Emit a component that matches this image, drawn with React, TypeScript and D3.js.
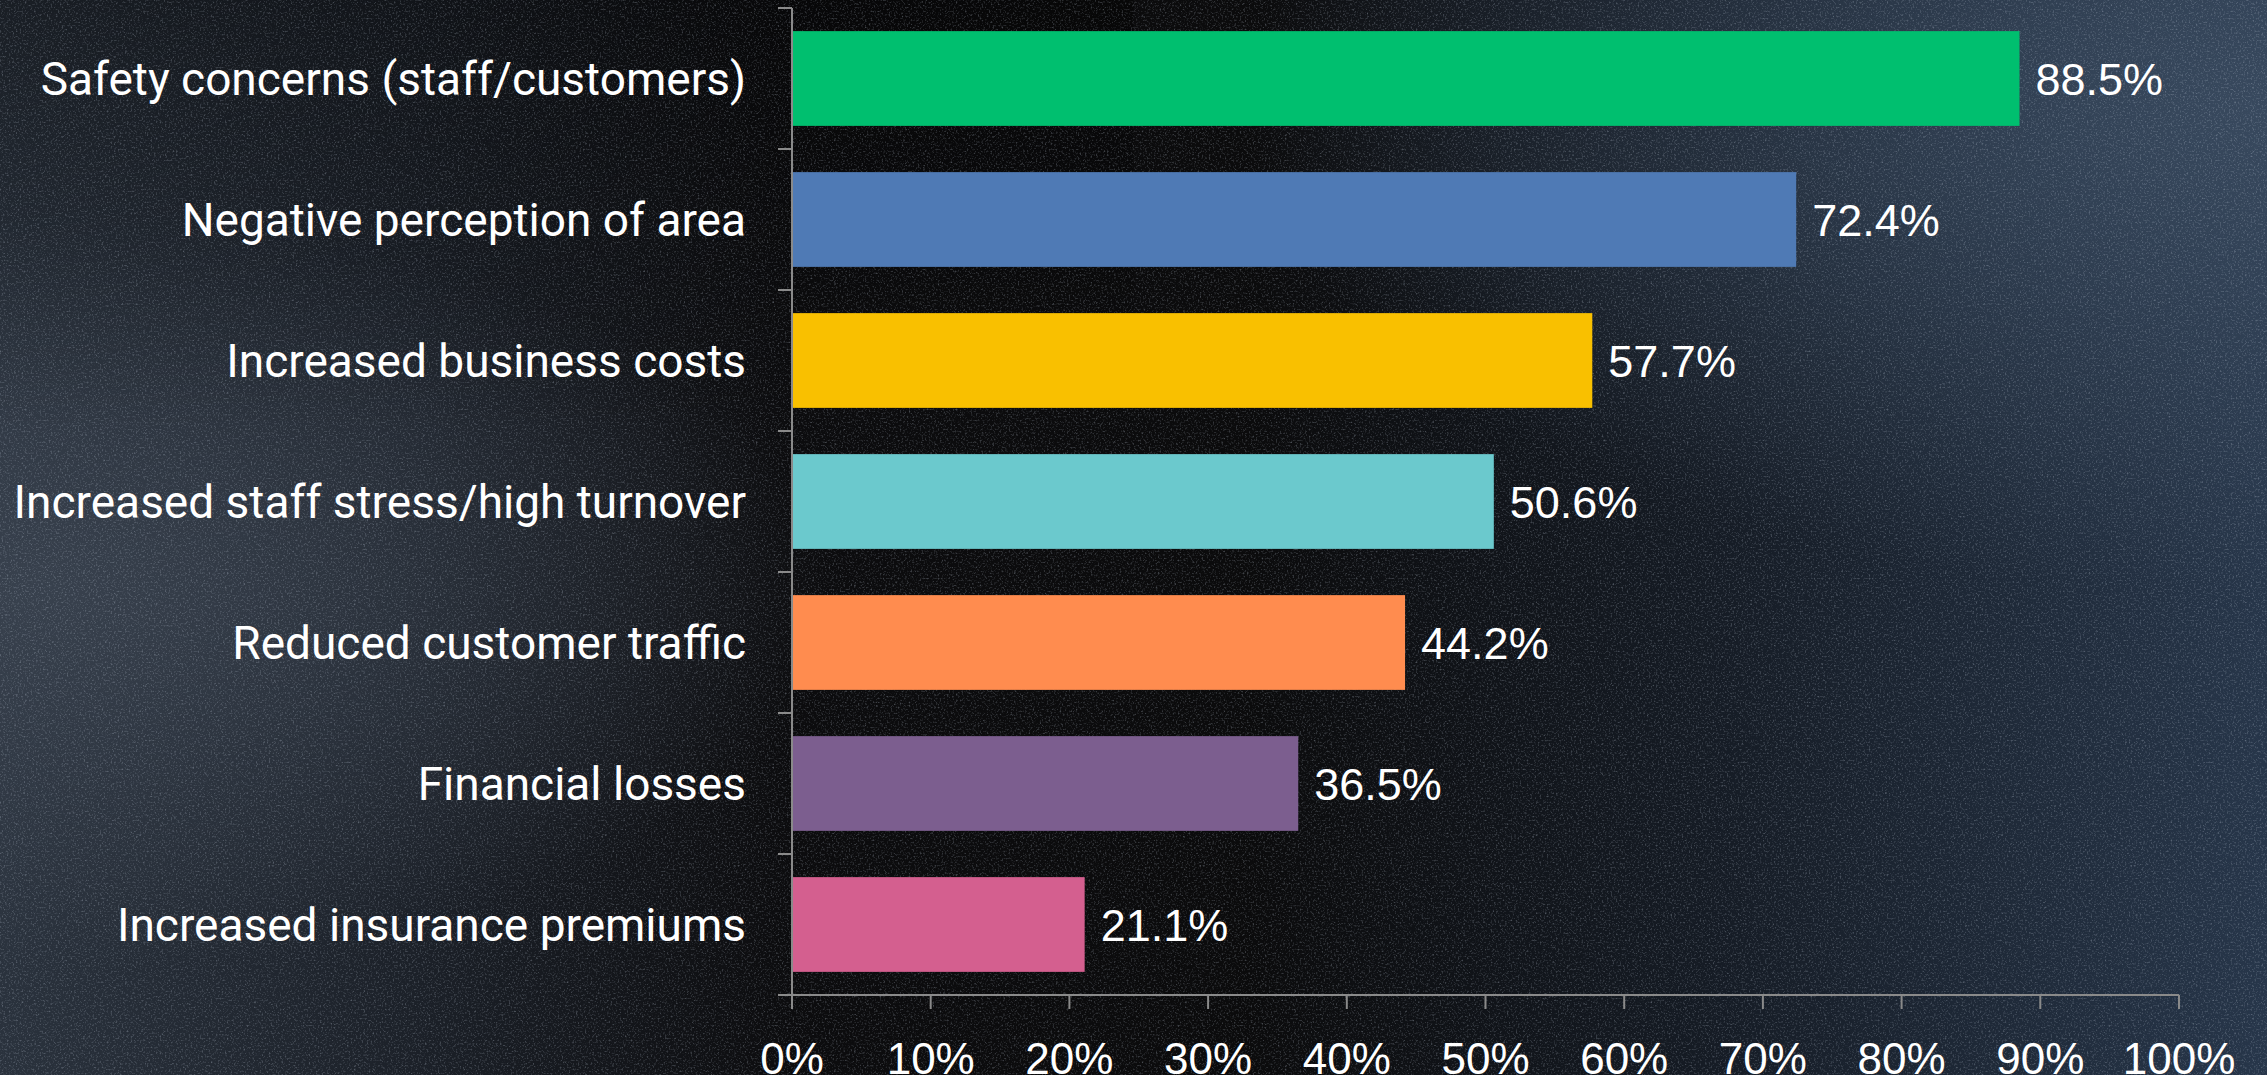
import React from "react";
import * as d3 from "d3";

const categories = [
  "Safety concerns (staff/customers)",
  "Negative perception of area",
  "Increased business costs",
  "Increased staff stress/high turnover",
  "Reduced customer traffic",
  "Financial losses",
  "Increased insurance premiums",
];
const values = [88.5, 72.4, 57.7, 50.6, 44.2, 36.5, 21.1];
const barColors = ["#00BF6F", "#4F7AB5", "#F9C000", "#6BC9CD", "#FF8C4F", "#7C5E8F", "#D45F8F"];
const xTicks = [0, 10, 20, 30, 40, 50, 60, 70, 80, 90, 100];

const W = 2267;
const H = 1075;
const AXIS_X0 = 792;
const AXIS_X1 = 2179;
const TOP = 8;
const BOTTOM = 995;
const PAD = 0.328;

export default function App() {
  const x = d3.scaleLinear().domain([0, 100]).range([AXIS_X0, AXIS_X1]);
  const y = d3
    .scaleBand<string>()
    .domain(categories)
    .range([TOP, BOTTOM])
    .paddingInner(PAD)
    .paddingOuter(PAD / 2);
  const step = y.step();
  const boundaries = categories.map((c) => (y(c) as number) - (step * PAD) / 2);
  boundaries.push(BOTTOM);
  const axisColor = "#8a8a8a";

  return (
    <svg
      width={W}
      height={H}
      viewBox={`0 0 ${W} ${H}`}
      style={{ position: "absolute", left: 0, top: 0, display: "block" }}
    >
      <defs>
        <linearGradient id="bgH" x1="0" y1="0" x2="1" y2="0">
          <stop offset="0" stopColor="#2a323d" />
          <stop offset="0.18" stopColor="#1c2129" />
          <stop offset="0.35" stopColor="#0c0c0e" />
          <stop offset="0.55" stopColor="#0b0b0c" />
          <stop offset="0.75" stopColor="#151b24" />
          <stop offset="1" stopColor="#27364a" />
        </linearGradient>
        <radialGradient id="glowL" cx="0.02" cy="0.55" r="0.35">
          <stop offset="0" stopColor="#3c4552" stopOpacity="0.8" />
          <stop offset="1" stopColor="#3c4552" stopOpacity="0" />
        </radialGradient>
        <radialGradient id="glowR" cx="1" cy="0.1" r="0.45">
          <stop offset="0" stopColor="#3a4b60" stopOpacity="0.9" />
          <stop offset="1" stopColor="#3a4b60" stopOpacity="0" />
        </radialGradient>
        <linearGradient id="darkTop" x1="0" y1="0" x2="0" y2="1">
          <stop offset="0" stopColor="#000" stopOpacity="0.4" />
          <stop offset="0.4" stopColor="#000" stopOpacity="0" />
        </linearGradient>
        <filter id="noise" x="0" y="0" width="100%" height="100%">
          <feTurbulence type="fractalNoise" baseFrequency="0.55" numOctaves="2" seed="3" />
          <feColorMatrix
            type="matrix"
            values="0 0 0 0 0.55  0 0 0 0 0.62  0 0 0 0 0.72  0 0 0 2.2 -1.15"
          />
        </filter>
      </defs>
      <rect x={0} y={0} width={W} height={H} fill="url(#bgH)" />
      <rect x={0} y={0} width={W} height={H} fill="url(#glowL)" />
      <rect x={0} y={0} width={W} height={H} fill="url(#glowR)" />
      <rect x={0} y={0} width={W / 2} height={H} fill="url(#darkTop)" />
      <rect x={0} y={0} width={W} height={H} filter="url(#noise)" opacity={0.4} />

      {/* bars */}
      {categories.map((c, i) => (
        <rect
          key={c}
          x={x(0)}
          y={y(c)}
          width={x(values[i]) - x(0)}
          height={y.bandwidth()}
          fill={barColors[i]}
        />
      ))}

      {/* value labels */}
      {categories.map((c, i) => (
        <text
          key={c + "v"}
          x={x(values[i]) + 16}
          y={(y(c) as number) + y.bandwidth() / 2 + 16}
          fill="#ffffff"
          fontFamily="'Liberation Sans', Arial, sans-serif"
          fontSize={45}
        >
          {values[i].toFixed(1)}%
        </text>
      ))}

      {/* category labels */}
      {categories.map((c) => (
        <text
          key={c + "l"}
          x={746}
          y={(y(c) as number) + y.bandwidth() / 2 + 16}
          fill="#ffffff"
          textAnchor="end"
          fontFamily="Roboto, 'Noto Sans', sans-serif"
          fontSize={46}
        >
          {c}
        </text>
      ))}

      {/* y axis */}
      <line x1={AXIS_X0} x2={AXIS_X0} y1={TOP} y2={BOTTOM} stroke={axisColor} strokeWidth={2} />
      {boundaries.map((b, i) => (
        <line key={"yt" + i} x1={AXIS_X0 - 14} x2={AXIS_X0} y1={b} y2={b} stroke={axisColor} strokeWidth={2} />
      ))}

      {/* x axis */}
      <line x1={AXIS_X0 - 14} x2={AXIS_X1} y1={BOTTOM} y2={BOTTOM} stroke={axisColor} strokeWidth={2} />
      {xTicks.map((t) => (
        <g key={"xt" + t}>
          <line x1={x(t)} x2={x(t)} y1={BOTTOM} y2={BOTTOM + 14} stroke={axisColor} strokeWidth={2} />
          <text
            x={x(t)}
            y={1074}
            fill="#ffffff"
            textAnchor="middle"
            fontFamily="'Liberation Sans', Arial, sans-serif"
            fontSize={44}
          >
            {t}%
          </text>
        </g>
      ))}
    </svg>
  );
}
